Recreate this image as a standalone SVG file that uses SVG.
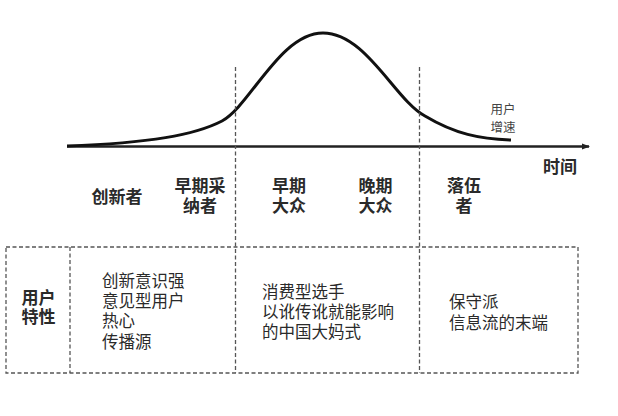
<svg xmlns="http://www.w3.org/2000/svg" width="618" height="416" viewBox="0 0 618 416">
<style>
.lbl{font-family:"Noto Sans CJK SC","Noto Sans",sans-serif;font-size:17px;font-weight:bold;fill:#2a2a2a;text-anchor:middle}
.txt{font-family:"Noto Sans CJK SC","Noto Sans",sans-serif;font-size:16.5px;fill:#2a2a2a}
.small{font-family:"Noto Sans CJK SC","Noto Sans",sans-serif;font-size:12.5px;fill:#444;text-anchor:middle}
.dash{stroke:#555;stroke-width:1.3;stroke-dasharray:4 2.5;fill:none}
</style>
<defs>
<marker id="arr" markerWidth="8" markerHeight="8" refX="7" refY="4" orient="auto" markerUnits="userSpaceOnUse">
<path d="M0,1 L8,4 L0,7 Z" fill="#222"/>
</marker>
</defs>
<rect width="618" height="416" fill="#fff"/>
<g id="connectors">
<line x1="67" y1="146.5" x2="589" y2="146.5" stroke="#222" stroke-width="2.5" marker-end="url(#arr)"/>
<path d="M67,146 C150,143 195,135 222,121 C250,106 280,33 323,33 C366,33 395,100 425,116 C455,134 480,139 511,140" fill="none" stroke="#111" stroke-width="3"/>
<line class="dash" x1="235.5" y1="67" x2="235.5" y2="373"/>
<line class="dash" x1="419.5" y1="67" x2="419.5" y2="373"/>
</g>
<g id="table">
<rect class="dash" x="6" y="247" width="572" height="126"/>
<line class="dash" x1="70" y1="247" x2="70" y2="373"/>
</g>
<g id="curve-label"><text class="small"><tspan x="503" y="113.5">用户</tspan><tspan x="503" y="132">增速</tspan></text></g>
<g id="axis-label"><text class="lbl" x="560" y="173">时间</text></g>
<g id="innovators"><text class="lbl" x="117" y="203">创新者</text></g>
<g id="early-adopters"><text class="lbl"><tspan x="200" y="192">早期采</tspan><tspan x="200" y="212">纳者</tspan></text></g>
<g id="early-majority"><text class="lbl"><tspan x="289" y="192">早期</tspan><tspan x="289" y="212">大众</tspan></text></g>
<g id="late-majority"><text class="lbl"><tspan x="375.5" y="192">晚期</tspan><tspan x="375.5" y="212">大众</tspan></text></g>
<g id="laggards"><text class="lbl"><tspan x="464" y="192">落伍</tspan><tspan x="464" y="212">者</tspan></text></g>
<g id="row-header"><text class="lbl"><tspan x="38.5" y="304">用户</tspan><tspan x="38.5" y="323">特性</tspan></text></g>
<g id="cell1"><text class="txt"><tspan x="102" y="287">创新意识强</tspan><tspan x="102" y="307">意见型用户</tspan><tspan x="102" y="327">热心</tspan><tspan x="102" y="348">传播源</tspan></text></g>
<g id="cell2"><text class="txt"><tspan x="262" y="298">消费型选手</tspan><tspan x="262" y="318">以讹传讹就能影响</tspan><tspan x="262" y="338">的中国大妈式</tspan></text></g>
<g id="cell3"><text class="txt"><tspan x="449" y="308">保守派</tspan><tspan x="449" y="329">信息流的末端</tspan></text></g>
</svg>
